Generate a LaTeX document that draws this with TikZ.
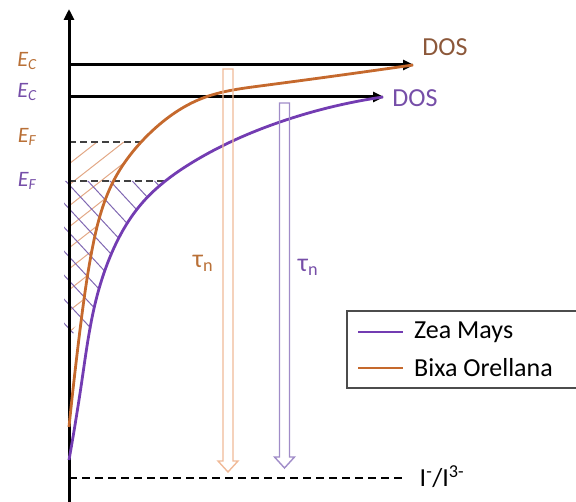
\documentclass[tikz,border=0pt]{standalone}
\usepackage{fontspec}
\setmainfont{Carlito}
\usepackage{tikz}
\usetikzlibrary{arrows.meta, calc, hobby}
\definecolor{bixa}{RGB}{197,105,45}
\definecolor{zea}{RGB}{115,60,178}
\definecolor{bixatext}{RGB}{185,112,55}
\definecolor{dosbrown}{RGB}{140,88,58}
\definecolor{zeatext}{RGB}{118,78,168}
\definecolor{bixalight}{RGB}{240,186,152}
\definecolor{zealight}{RGB}{160,140,200}
\definecolor{bixahatch}{RGB}{226,168,134}
\definecolor{zeahatch}{RGB}{128,104,178}

\begin{document}
\begin{tikzpicture}[x=1pt, y=-1pt, every node/.style={font=\fontsize{26}{30}\selectfont, inner sep=0}]
\tikzset{
  axisline/.style={line width=3pt, -{Triangle[length=11pt, width=10pt]}},
  level/.style={line width=3pt, -{Triangle[length=11pt, width=10pt]}},
  fermi/.style={dash pattern=on 7pt off 4pt, line width=1.2pt, black!75},
  redox/.style={dash pattern=on 8pt off 5pt, line width=1.8pt, black},
  bixa curve/.style={line width=2.8pt, bixa},
  zea curve/.style={line width=2.8pt, zea},
  hatchline/.style={line width=1pt},
  elabel/.style={font=\fontsize{22}{24}\selectfont\itshape},
  tau arrow/.style={line width=1.4pt, line join=miter,
    to path={let \p1=(\tikztostart), \p2=(\tikztotarget) in
      (\x1-5pt,\y1) -- (\x1+5pt,\y1) -- (\x1+5pt,\y2+11pt) -- (\x1+10pt,\y2+11pt)
      -- (\x1,\y2) -- (\x1-10pt,\y2+11pt) -- (\x1-5pt,\y2+11pt) -- cycle}},
  legendbox/.style={line width=1.2pt, draw=black!70}
}
\useasboundingbox (0,0) rectangle (576,502);
% --- hatched filled states ---
\begin{scope}
  \clip (69,142) -- (140,142) -- (127,160) -- (113,182) -- (100,217) -- (92,250)
    -- (84,290) -- (80,320) -- (69,335) -- cycle;
  \foreach \k in {-4,...,10} \draw[hatchline, bixahatch] (60,150+21*\k) -- ++(120,-94);
\end{scope}
\begin{scope}
  \clip (64,181) -- (165,181) -- (143,202) -- (123,230) -- (110,257) -- (100,285)
    -- (95,300) -- (91,330) -- (64,335) -- cycle;
  \foreach \k in {-4,...,8} \draw[hatchline, zeahatch] (49,139+24*\k) -- ++(150,162);
\end{scope}
% --- energy levels ---
\coordinate (origin) at (69,502);
\coordinate (ytip) at (69,9);
\coordinate (ecB) at (69,65);
\coordinate (ecBtip) at (414,65);
\coordinate (ecZ) at (69,97);
\coordinate (ecZtip) at (384,97);
\coordinate (efB) at (69,142);
\coordinate (efBend) at (140,142);
\coordinate (efZ) at (69,181);
\coordinate (efZend) at (165,181);
\coordinate (redoxL) at (69,478);
\coordinate (redoxR) at (402,478);
\draw[fermi] (efB) -- (efBend);
\draw[fermi] (efZ) -- (efZend);
\draw[redox] (redoxL) -- (redoxR);
\draw[axisline] (origin) -- (ytip);
\draw[level] (ecB) -- (ecBtip);
\draw[level] (ecZ) -- (ecZtip);
% --- DOS curves ---
\draw[bixa curve, use Hobby shortcut] (69,427) .. (80,330) .. (92,250) .. (113,182)
  .. (150,133) .. (203,98) .. (260,86) .. (413,65);
\draw[zea curve, use Hobby shortcut] (69,460) .. (82,380) .. (96,300) .. (110,257)
  .. (143,202) .. (193,162) .. (280,122) .. (383,97);
% --- recombination arrows ---
\coordinate (tauBtop) at (228,69);
\coordinate (tauBtip) at (228,472);
\coordinate (tauZtop) at (284.5,103);
\coordinate (tauZtip) at (284.5,468);
\draw[tau arrow, bixalight] (tauBtop) to (tauBtip);
\draw[tau arrow, zealight] (tauZtop) to (tauZtip);
\node[text=bixatext] (tauBlabel) at (203,263) {τ\textsubscript{n}};
\node[text=zeatext] (tauZlabel) at (308,267) {τ\textsubscript{n}};
% --- labels ---
\node[elabel, text=bixatext] (ecBlabel) at (27,61) {E\textsubscript{C}};
\node[elabel, text=zeatext] (ecZlabel) at (27,92) {E\textsubscript{C}};
\node[elabel, text=bixatext] (efBlabel) at (27,137) {E\textsubscript{F}};
\node[elabel, text=zeatext] (efZlabel) at (27,181) {E\textsubscript{F}};
\node[text=dosbrown] (dosB) at (445,47) {DOS};
\node[text=zeatext] (dosZ) at (415,98) {DOS};
\node (redoxlabel) at (442,477) {I\textsuperscript{-}/I\textsuperscript{3-}};
% --- legend ---
\draw[legendbox] (347,311) rectangle (590,388);
\draw[zea curve] (358,332) -- (403,332);
\node[anchor=west] (zeaentry) at (414,332) {Zea Mays};
\draw[bixa curve] (358,368) -- (403,368);
\node[anchor=west] (bixaentry) at (414,368) {Bixa Orellana};
\end{tikzpicture}
\end{document}
